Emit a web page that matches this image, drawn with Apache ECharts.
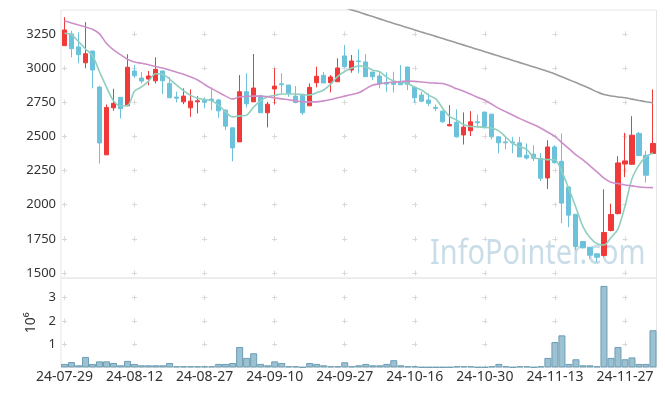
<!DOCTYPE html>
<html>
<head>
<meta charset="utf-8">
<script src="https://cdn.jsdelivr.net/npm/echarts@6/dist/echarts.min.js"></script>
<style>html,body{margin:0;padding:0;background:#fff;}#c{width:665px;height:396px;}</style>
</head>
<body>
<div id="c"></div>
<script>
const dates = ['24-07-29','24-07-30','24-07-31','24-08-01','24-08-02','24-08-05','24-08-06','24-08-07','24-08-08','24-08-09',
'24-08-12','24-08-13','24-08-14','24-08-16','24-08-19','24-08-20','24-08-21','24-08-22','24-08-23','24-08-26',
'24-08-27','24-08-28','24-08-29','24-08-30','24-09-02','24-09-03','24-09-04','24-09-05','24-09-06','24-09-09',
'24-09-10','24-09-11','24-09-12','24-09-13','24-09-19','24-09-20','24-09-23','24-09-24','24-09-25','24-09-26',
'24-09-27','24-09-30','24-10-02','24-10-04','24-10-07','24-10-08','24-10-10','24-10-11','24-10-14','24-10-15',
'24-10-16','24-10-17','24-10-18','24-10-21','24-10-22','24-10-23','24-10-24','24-10-25','24-10-28','24-10-29',
'24-10-30','24-10-31','24-11-01','24-11-04','24-11-05','24-11-06','24-11-07','24-11-08','24-11-11','24-11-12',
'24-11-13','24-11-14','24-11-15','24-11-18','24-11-19','24-11-20','24-11-21','24-11-22','24-11-25','24-11-26',
'24-11-27','24-11-28','24-11-29','24-12-02','24-12-03'];

// [open, close, low, high]
const candles = [
[3164,3279,3164,3372],[3250,3142,3079,3274],[3155,3098,3035,3262],[3039,3105,2998,3336],[3125,2986,2852,3125],
[2861,2452,2301,2870],[2365,2712,2365,2734],[2709,2742,2687,2849],[2786,2702,2632,2786],[2724,3006,2724,3101],
[2979,2944,2929,3023],[2927,2905,2888,2971],[2920,2942,2874,2979],[2907,2991,2888,3079],[2979,2907,2810,2979],
[2888,2783,2783,2935],[2788,2780,2749,2827],[2753,2795,2736,2852],[2709,2758,2643,2844],[2753,2761,2668,2795],
[2764,2751,2705,2786],[2773,2763,2692,2859],[2766,2687,2636,2775],[2692,2575,2546,2700],[2563,2416,2318,2563],
[2460,2827,2460,2949],[2827,2739,2712,2962],[2753,2854,2753,3103],[2797,2673,2673,2805],[2673,2736,2566,2753],
[2847,2868,2734,2998],[2885,2878,2815,2962],[2876,2817,2790,2876],[2795,2749,2742,2869],[2808,2673,2658,2808],
[2724,2859,2724,2888],[2893,2940,2859,3010],[2947,2891,2891,2971],[2893,2935,2822,2949],[2900,3001,2900,3072],
[3089,3010,3005,3169],[2986,3052,2966,3096],[3052,3048,2962,3138],[3045,2937,2937,3103],[2971,2937,2913,2971],
[2942,2885,2852,2969],[2893,2883,2827,2969],[2898,2881,2822,2973],[2900,2878,2878,3023],[3008,2881,2839,3008],
[2861,2783,2746,2861],[2803,2758,2750,2827],[2766,2742,2722,2815],[2713,2705,2685,2734],[2685,2607,2600,2690],
[2577,2587,2577,2729],[2604,2497,2490,2698],[2511,2568,2441,2676],[2541,2607,2503,2685],[2607,2600,2566,2661],
[2678,2563,2560,2680],[2663,2497,2477,2663],[2497,2453,2377,2502],[2460,2453,2404,2497],[2460,2453,2377,2497],
[2453,2350,2350,2497],[2362,2342,2331,2448],[2370,2340,2320,2436],[2338,2194,2174,2379],[2196,2423,2115,2472],
[2423,2308,2300,2436],[2318,2012,1865,2521],[2130,1924,1836,2135],[1930,1695,1670,1930],[1731,1685,1680,1731],
[1689,1631,1604,1689],[1641,1616,1580,1645],[1629,1797,1620,2113],[1812,1929,1805,2008],[1935,2306,1930,2355],
[2298,2321,2203,2526],[2296,2509,2290,2648],[2522,2360,2355,2533],[2362,2216,2162,2394],[2375,2448,2370,2844]];

const ma5 = [3255,3245,3194,3140,3090,2973,2860,2760,2724,2726,
2832,2862,2905,2958,2954,2920,2876,2835,2800,2780,
2771,2760,2729,2680,2643,2650,2656,2715,2760,2790,
2800,2810,2810,2810,2806,2803,2820,2840,2883,2940,
2975,3000,3015,3010,2985,2973,2932,2905,2895,2888,
2860,2839,2800,2775,2705,2645,2619,2585,2572,2570,
2567,2560,2541,2495,2448,2425,2404,2345,2335,2330,
2329,2240,2115,1980,1840,1760,1715,1705,1760,1824,
1990,2190,2290,2350,2378];

const ma20 = [3345,3330,3315,3300,3284,3250,3180,3133,3098,3065,
3045,3035,3025,3012,3000,2986,2970,2955,2935,2913,
2880,2850,2822,2795,2773,2790,2793,2795,2795,2790,
2782,2775,2768,2760,2753,2753,2753,2760,2770,2783,
2795,2807,2819,2848,2876,2885,2893,2897,2901,2905,
2903,2898,2893,2890,2887,2870,2848,2830,2808,2785,
2765,2735,2705,2680,2655,2630,2607,2585,2560,2530,
2500,2455,2410,2365,2329,2285,2240,2195,2165,2155,
2145,2138,2130,2126,2125];

const maLong = [null,null,null,null,null,null,null,null,null,null,
null,null,null,null,null,null,null,null,null,null,
null,null,null,null,null,null,null,null,null,null,
null,null,null,null,null,null,null,null,null,null,
3442,3426,3410,3393,3377,3360,3343,3327,3311,3295,
3279,3263,3248,3232,3216,3200,3184,3168,3152,3136,
3120,3104,3088,3072,3056,3040,3024,3008,2992,2975,
2957,2936,2915,2894,2873,2850,2826,2806,2796,2789,
2783,2773,2763,2754,2746];

const volumes = [150000,230000,90000,450000,150000,260000,260000,190000,90000,280000,
150000,90000,90000,90000,90000,190000,50000,50000,50000,50000,
50000,50000,150000,150000,190000,880000,410000,610000,150000,90000,
260000,190000,50000,50000,10000,190000,150000,90000,50000,50000,
220000,50000,90000,150000,90000,90000,150000,310000,90000,50000,
50000,10000,10000,10000,10000,10000,50000,50000,50000,10000,
10000,50000,150000,50000,10000,50000,50000,10000,50000,410000,
1090000,1380000,150000,350000,90000,90000,50000,3510000,410000,880000,
350000,430000,150000,150000,1600000];

const priceTickValues = [1500,1750,2000,2250,2500,2750,3000,3250];
const priceRange = {min: 1464, max: 3425};
const volTickValues = [1000000,2000000,3000000];
const volRange = {min: 0, max: 3850000};

const FONT = 'Noto Sans';
const GRID_C = '#e6e6e6';
const CROSS_C = '#d8d8d8';

const chart = echarts.init(document.getElementById('c'), null, {renderer: 'canvas'});
const L = 61, W = 595.5;
const band = W / dates.length;
const xPeriod = band * 10;
const mainTop = 10, mainH = 268;
const volTop = 278, volH = 89.4;
const pSpan = priceRange.max - priceRange.min;
const pxPer = mainH / pSpan * 250;
const firstTickY = (priceRange.max - 3250) / pSpan * mainH;
const vSpan = volRange.max - volRange.min;
const vPxPer = volH / vSpan * 1000000;
const vFirstY = (volRange.max - 3000000) / vSpan * volH;
const D = 5;

function hDash() {
  return {color: CROSS_C, width: 1, type: [D, xPeriod - D], dashOffset: xPeriod - (band/2 - D/2)};
}
function vDash(period, first) {
  let off = period - ((first - D/2) % period);
  return {color: CROSS_C, width: 1, type: [D, period - D], dashOffset: off};
}

const option = {
  animation: false,
  backgroundColor: '#fff',
  textStyle: {fontFamily: FONT},
  graphic: [{
    type: 'text', x: 430, y: 254, z: 0, scaleX: 0.85, silent: true,
    style: {text: 'InfoPointer.com', fontSize: 34, fontFamily: FONT,
      fill: 'rgba(188,212,226,0.8)', verticalAlign: 'middle', align: 'left'}
  }],
  grid: [
    {left: L, top: mainTop, width: W, height: mainH, show: true, borderColor: GRID_C, borderWidth: 1, outerBoundsMode: 'none'},
    {left: L, top: volTop, width: W, height: volH, show: true, borderColor: GRID_C, borderWidth: 1, outerBoundsMode: 'none'}
  ],
  xAxis: [
    {type: 'category', gridIndex: 0, data: dates, boundaryGap: true,
     axisLine: {show: false}, axisTick: {show: false}, axisLabel: {show: false},
     splitLine: {show: true, interval: 9, alignWithLabel: true, lineStyle: vDash(pxPer, firstTickY)}},
    {type: 'category', gridIndex: 1, data: dates, boundaryGap: true,
     axisLine: {show: false}, axisTick: {show: false, interval: 9, alignWithLabel: true},
     axisLabel: {show: true, interval: 9, color: '#333', fontSize: 14, fontFamily: FONT, margin: 3},
     splitLine: {show: true, interval: 9, alignWithLabel: true, lineStyle: vDash(vPxPer, vFirstY)}}
  ],
  yAxis: [
    {type: 'value', gridIndex: 0, min: priceRange.min, max: priceRange.max,
     axisLine: {show: false}, axisTick: {show: false, customValues: priceTickValues},
     axisLabel: {color: '#333', fontSize: 13, fontFamily: FONT, margin: 5, customValues: priceTickValues,
       formatter: v => String(v)},
     splitLine: {show: true, lineStyle: hDash()}},
    {type: 'value', gridIndex: 1, min: volRange.min, max: volRange.max,
     axisLine: {show: false}, axisTick: {show: false, customValues: volTickValues},
     name: '10⁶', nameLocation: 'middle', nameRotate: 90, nameGap: 18,
     nameTextStyle: {color: '#333', fontSize: 14, fontFamily: FONT},
     axisLabel: {color: '#333', fontSize: 13, fontFamily: FONT, margin: 5, customValues: volTickValues,
       formatter: v => String(Math.round(v / 1e6))},
     splitLine: {show: true, lineStyle: hDash()}}
  ],
  series: [
    {type: 'candlestick', xAxisIndex: 0, yAxisIndex: 0, data: candles, barWidth: '66%', z: 3,
     itemStyle: {color: '#f03a3a', color0: '#6cc2da', borderColor: '#f03a3a', borderColor0: '#6cc2da', borderWidth: 1}},
    {type: 'line', xAxisIndex: 0, yAxisIndex: 0, data: ma5, smooth: 0.3, showSymbol: false, z: 4,
     lineStyle: {color: '#8fcfc0', width: 1.6}},
    {type: 'line', xAxisIndex: 0, yAxisIndex: 0, data: ma20, smooth: 0.3, showSymbol: false, z: 4,
     lineStyle: {color: '#cc8fc9', width: 1.6}},
    {type: 'line', xAxisIndex: 0, yAxisIndex: 0, data: maLong, smooth: 0.3, showSymbol: false, z: 4, connectNulls: false,
     lineStyle: {color: '#9a9a9a', width: 1.6}},
    {type: 'bar', xAxisIndex: 1, yAxisIndex: 1, data: volumes, barCategoryGap: '0%', z: 3,
     itemStyle: {color: '#9cc1d1', borderColor: '#6c9db4', borderWidth: 1}}
  ]
};
chart.setOption(option);
</script>
</body>
</html>
